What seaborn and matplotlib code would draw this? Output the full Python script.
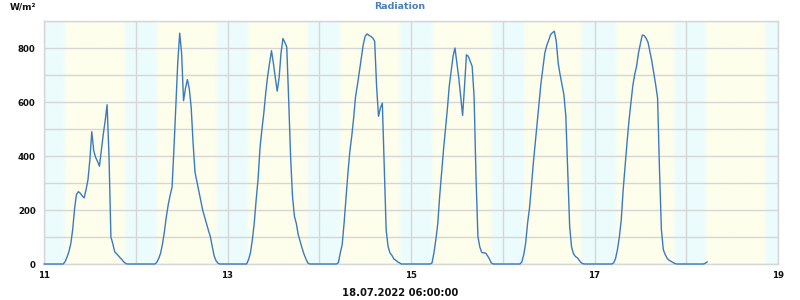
import numpy as np
import pandas as pd
import matplotlib
matplotlib.use("Agg")
import matplotlib.pyplot as plt
import seaborn as sns

# ---- data: half-hourly radiation values (W/m²), 11.07 00:00 .. 18.07 05:30 ----
d11 = [0, 0, 0, 0, 0, 0, 0, 0, 0, 0,
       0, 8, 25, 45, 75, 127, 205, 258, 268, 262,
       252, 245, 275, 312, 386, 490, 420, 395, 380, 362,
       420, 480, 530, 590, 400, 100, 75, 45, 38, 30,
       22, 14, 6, 1, 0, 0, 0, 0]
d12 = [0, 0, 0, 0, 0, 0, 0, 0, 0, 0,
       0, 6, 20, 40, 75, 120, 175, 220, 255, 285,
       430, 590, 750, 855, 780, 605, 650, 683, 650, 580,
       448, 340, 305, 270, 235, 200, 175, 150, 125, 102,
       65, 30, 12, 3, 0, 0, 0, 0]
d13 = [0, 0, 0, 0, 0, 0, 0, 0, 0, 0,
       0, 16, 41, 90, 152, 238, 315, 430, 498, 559,
       633, 695, 744, 790, 744, 690, 640, 690, 781, 835,
       821, 804, 609, 399, 250, 177, 150, 109, 84, 59,
       37, 19, 4, 0, 0, 0, 0, 0]
d14 = [0, 0, 0, 0, 0, 0, 0, 0, 0, 0,
       5, 41, 72, 152, 244, 337, 417, 473, 541, 621,
       664, 714, 763, 812, 843, 852, 847, 843, 837, 825,
       658, 547, 578, 596, 362, 127, 65, 41, 32, 19,
       14, 8, 4, 0, 0, 0, 0, 0]
d15 = [0, 0, 0, 0, 0, 0, 0, 0, 0, 0,
       0, 4, 41, 90, 149, 251, 337, 423, 498, 572,
       658, 714, 769, 800, 744, 689, 621, 550, 658, 775,
       769, 751, 732, 621, 325, 102, 63, 43, 41, 41,
       31, 19, 4, 0, 0, 0, 0, 0]
d16 = [0, 0, 0, 0, 0, 0, 0, 0, 0, 0,
       8, 35, 78, 152, 207, 288, 374, 448, 522, 596,
       670, 726, 781, 809, 828, 849, 857, 862, 825, 744,
       701, 664, 627, 547, 349, 140, 63, 38, 28, 23,
       14, 5, 1, 0, 0, 0, 0, 0]
d17 = [0, 0, 0, 0, 0, 0, 0, 0, 0, 0,
       4, 20, 53, 100, 164, 275, 362, 448, 528, 593,
       658, 701, 732, 781, 816, 848, 846, 836, 821, 785,
       751, 707, 664, 615, 349, 127, 53, 35, 21, 14,
       10, 6, 2, 0, 0, 0, 0, 0]
d18 = [0, 0, 0, 0, 0, 0, 0, 0, 0, 0, 3, 8]

start_day = 11
step_hours = 0.5
x_ticks = [11, 13, 15, 17, 19]
x_tick_labels = ["11", "13", "15", "17", "19"]
y_ticks = [0, 200, 400, 600, 800]
y_tick_labels = ["0", "200", "400", "600", "800"]

# day / night background (hour of sunrise and sunset for days 11..18)
sunrise = [5.5, 5.5, 5.4, 5.4, 5.7, 5.7, 5.7, 5.2]
sunset = [21.2, 21.2, 21.0, 21.1, 21.2, 20.6, 20.9, 20.8]

title = "Radiation"
unit = "W/m²"
stamp = "18.07.2022 06:00:00"

values = d11 + d12 + d13 + d14 + d15 + d16 + d17 + d18
days = start_day + np.arange(len(values)) * step_hours / 24.0
df = pd.DataFrame({"day": days, "radiation": values})

sns.set_theme(style="white")
plt.rcParams["font.family"] = ["DejaVu Sans"]

LINE = "#3a7bbd"
GRID = "#d6d6d6"
CYAN = np.array([236, 252, 253]) / 255.0
YELL = np.array([254, 254, 236]) / 255.0

fig = plt.figure(figsize=(8, 3), dpi=100)
ax = fig.add_axes([44 / 800, 36 / 300, 734 / 800, 243 / 300])

# background gradient
xs = np.linspace(11, 19, 2401)
idx = np.clip(np.floor(xs).astype(int) - 11, 0, 7)
hrs = (xs - np.floor(xs)) * 24
sr = np.array(sunrise)[idx]
ss = np.array(sunset)[idx]
w = 1.1
frac = np.clip((hrs - sr) / w + 0.5, 0, 1) * np.clip((ss - hrs) / w + 0.5, 0, 1)
img = CYAN[None, :] * (1 - frac[:, None]) + YELL[None, :] * frac[:, None]
ax.imshow(img[None, :, :], aspect="auto", extent=[11, 19, 0, 900],
          origin="lower", zorder=0, interpolation="bilinear")

sns.lineplot(data=df, x="day", y="radiation", ax=ax, color=LINE,
             linewidth=1.0, zorder=3, clip_on=False)

ax.set_xlim(11, 19)
ax.set_ylim(0, 900)
ax.set_xticks(x_ticks)
ax.set_xticklabels(x_tick_labels)
ax.set_xticks(np.arange(11, 20, 1), minor=True)
ax.set_yticks(y_ticks)
ax.set_yticklabels(y_tick_labels)
ax.set_yticks(np.arange(0, 901, 100), minor=True)
ax.grid(which="both", color=GRID, linewidth=1.0, zorder=1)
ax.set_axisbelow(False)
for gl in ax.get_xgridlines() + ax.get_ygridlines():
    gl.set_zorder(1)
ax.xaxis.grid(True, which="minor", color=GRID, linewidth=1.0)
ax.yaxis.grid(True, which="minor", color=GRID, linewidth=1.0)
ax.tick_params(axis="both", which="both", length=0)
ax.tick_params(axis="x", pad=5)
ax.tick_params(axis="y", pad=6)
for lab in ax.get_xticklabels() + ax.get_yticklabels():
    lab.set_fontsize(6.2)
    lab.set_fontweight("bold")
    lab.set_color("#111111")
for s in ax.spines.values():
    s.set_color(GRID)
    s.set_linewidth(1.0)
ax.set_xlabel("")
ax.set_ylabel("")

fig.text(0.5, 1 - 6.5 / 300, title, ha="center", va="center",
         fontsize=6.8, fontweight="bold", color="#4a80b8")
fig.text(10 / 800, 1 - 6.5 / 300, unit, ha="left", va="center",
         fontsize=6.5, fontweight="bold", color="#111111")
fig.text(0.5, 1 - 292.5 / 300, stamp, ha="center", va="center",
         fontsize=7.2, fontweight="bold", color="#111111")

fig.savefig("out.png", dpi=100)
